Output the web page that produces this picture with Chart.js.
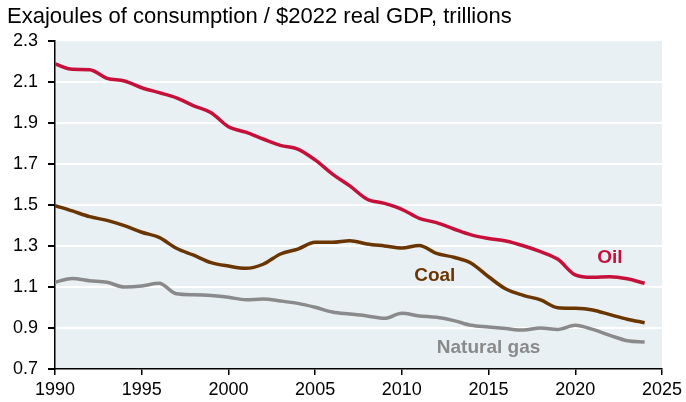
<!DOCTYPE html>
<html>
<head>
<meta charset="utf-8">
<script src="https://cdn.jsdelivr.net/npm/chart.js@4.4.1/dist/chart.umd.min.js"></script>
<style>
    html, body { margin: 0; padding: 0; background: #ffffff; }
    #wrap { width: 686px; height: 402px; position: relative; }
</style>
</head>
<body>
<div id="wrap"><canvas id="intensityChart"></canvas></div>
<script>
// ==========================================
// DATA
// ==========================================

const years = [1990, 1991, 1992, 1993, 1994, 1995, 1996, 1997, 1998, 1999,
               2000, 2001, 2002, 2003, 2004, 2005, 2006, 2007, 2008, 2009,
               2010, 2011, 2012, 2013, 2014, 2015, 2016, 2017, 2018, 2019,
               2020, 2021, 2022, 2023, 2024];

const oilValues = [2.188, 2.162, 2.160, 2.118, 2.105, 2.072, 2.048, 2.023, 1.984, 1.950,
                   1.882, 1.855, 1.822, 1.791, 1.773, 1.720, 1.651, 1.593, 1.528, 1.508,
                   1.479, 1.435, 1.414, 1.383, 1.354, 1.337, 1.324, 1.301, 1.272, 1.235,
                   1.159, 1.147, 1.150, 1.140, 1.118];

const coalValues = [1.497, 1.471, 1.443, 1.425, 1.399, 1.367, 1.342, 1.289, 1.255, 1.219,
                    1.202, 1.191, 1.211, 1.261, 1.285, 1.318, 1.318, 1.326, 1.310, 1.300,
                    1.290, 1.303, 1.264, 1.245, 1.216, 1.150, 1.090, 1.059, 1.037, 0.999,
                    0.996, 0.988, 0.965, 0.943, 0.926];

const gasValues = [1.123, 1.142, 1.131, 1.123, 1.100, 1.105, 1.118, 1.067, 1.062, 1.058,
                   1.050, 1.038, 1.041, 1.032, 1.020, 1.001, 0.978, 0.968, 0.959, 0.947,
                   0.972, 0.959, 0.952, 0.936, 0.913, 0.905, 0.897, 0.890, 0.900, 0.893,
                   0.913, 0.893, 0.864, 0.838, 0.832];

const seriesNames = ["Oil", "Coal", "Natural gas"];
const seriesColors = ["#C5103A", "#6B3500", "#8A8A8A"];

// label anchors in data units: [year, value]
const labelAnchors = [[2022.0, 1.242], [2011.9, 1.154], [2015.0, 0.802]];

const subtitle = "Exajoules of consumption / $2022 real GDP, trillions";

// ==========================================
// HELPERS
// ==========================================

function toPoints(values) {
    return years.map(function (yr, i) {
        return { x: yr, y: values[i] };
    });
}

function makeDataset(name, values, color) {
    return {
        label: name,
        data: toPoints(values),
        borderColor: color,
        backgroundColor: color,
        borderWidth: 3.5,
        pointRadius: 0,
        cubicInterpolationMode: "monotone",
        fill: false,
    };
}

// ==========================================
// PLUGINS
// ==========================================

const plotBackground = {
    id: "plotBackground",
    beforeDraw: function (chart) {
        const a = chart.chartArea;
        const ctx = chart.ctx;
        ctx.save();
        ctx.fillStyle = "#E8F0F3";
        ctx.fillRect(a.left, a.top, a.right - a.left, a.bottom - a.top);
        ctx.restore();
    }
};

const textLayer = {
    id: "textLayer",
    afterDraw: function (chart) {
        const ctx = chart.ctx;
        const xs = chart.scales.x;
        const ys = chart.scales.y;

        ctx.save();

        // subtitle
        ctx.fillStyle = "#000";
        ctx.font = "22px 'Liberation Sans', Arial, sans-serif";
        ctx.textAlign = "left";
        ctx.textBaseline = "alphabetic";
        ctx.fillText(subtitle, 7, 23);

        // series labels
        ctx.font = "bold 19px 'Liberation Sans', Arial, sans-serif";
        ctx.textAlign = "center";
        ctx.textBaseline = "middle";
        labelAnchors.forEach(function (p, i) {
            ctx.fillStyle = seriesColors[i];
            ctx.fillText(seriesNames[i], xs.getPixelForValue(p[0]), ys.getPixelForValue(p[1]));
        });

        ctx.restore();
    }
};

// ==========================================
// CHART
// ==========================================

const canvas = document.getElementById("intensityChart");

new Chart(canvas, {

    type: "line",

    data: {
        datasets: [
            makeDataset(seriesNames[0], oilValues, seriesColors[0]),
            makeDataset(seriesNames[1], coalValues, seriesColors[1]),
            makeDataset(seriesNames[2], gasValues, seriesColors[2]),
        ]
    },

    options: {
        responsive: true,
        maintainAspectRatio: false,
        animation: false,
        layout: {
            padding: { top: 41, right: 24, bottom: 0, left: 0 }
        },
        plugins: {
            legend: { display: false },
            tooltip: { enabled: false },
        },
        scales: {
            x: {
                type: "linear",
                min: 1990,
                max: 2025,
                afterFit: function (s) { s.height = 33; },
                ticks: {
                    stepSize: 5,
                    padding: 4,
                    color: "#000",
                    font: { family: "'Liberation Sans', Arial, sans-serif", size: 18 },
                    callback: function (v) { return String(v); }
                },
                grid: {
                    drawOnChartArea: false,
                    tickColor: "#000",
                    tickLength: 6,
                    lineWidth: 1.5,
                },
                border: { color: "#000", width: 1.5 }
            },
            y: {
                min: 0.7,
                max: 2.3,
                afterFit: function (s) { s.width = 55; },
                ticks: {
                    stepSize: 0.2,
                    padding: 10,
                    color: "#000",
                    font: { family: "'Liberation Sans', Arial, sans-serif", size: 18 },
                    callback: function (v) { return Number(v).toFixed(1); }
                },
                grid: {
                    color: function (c) {
                        if (!c.tick) return "#fff";
                        const v = c.tick.value;
                        return (Math.abs(v - 0.7) < 1e-6 || Math.abs(v - 2.3) < 1e-6) ? "rgba(0,0,0,0)" : "#fff";
                    },
                    tickColor: "#000",
                    tickLength: 7,
                    lineWidth: 2,
                },
                border: { color: "#000", width: 1.5 }
            }
        }
    },

    plugins: [plotBackground, textLayer]

});
</script>
</body>
</html>
